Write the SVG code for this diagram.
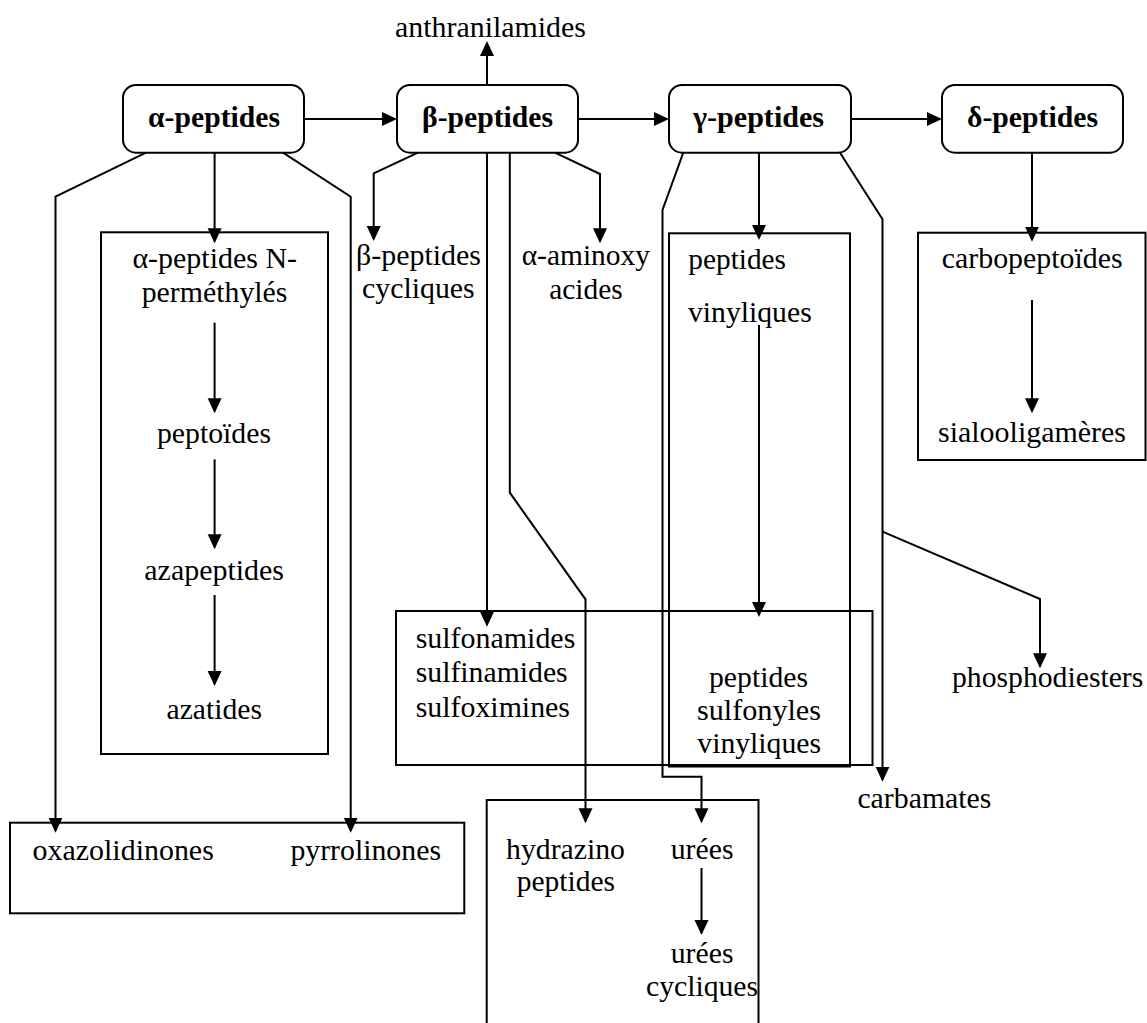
<svg xmlns="http://www.w3.org/2000/svg" width="1147" height="1023" viewBox="0 0 1147 1023">
<style>
text{font-family:"Liberation Serif","Times New Roman",serif;font-size:29.5px;fill:#000}
.b{font-weight:bold}
.box{fill:none;stroke:#000;stroke-width:2}
.ln{fill:none;stroke:#000;stroke-width:2;marker-end:url(#ah)}
</style>
<defs>
<marker id="ah" markerUnits="userSpaceOnUse" markerWidth="16" markerHeight="16" refX="13" refY="7" orient="auto">
<path d="M0,0 L15,7 L0,14 z" fill="#000"/>
</marker>
</defs>
<rect width="1147" height="1023" fill="#fff"/>

<g id="connectors">
<line class="ln" x1="304" y1="119" x2="395" y2="119"/>
<line class="ln" x1="578" y1="119" x2="667" y2="119"/>
<line class="ln" x1="851" y1="119" x2="940" y2="119"/>
<line class="ln" x1="487" y1="85" x2="487" y2="43"/>
<polyline class="ln" points="146,152.7 55.5,196.7 55.5,830.7"/>
<line class="ln" x1="214.6" y1="152.7" x2="214.6" y2="241.3"/>
<polyline class="ln" points="283,152.7 350.7,196.7 350.7,830.7"/>
<line class="ln" x1="214.6" y1="322.7" x2="214.6" y2="411.3"/>
<line class="ln" x1="214.6" y1="459.3" x2="214.6" y2="547.3"/>
<line class="ln" x1="214.6" y1="595" x2="214.6" y2="684"/>
<polyline class="ln" points="418,152.7 373.7,173.3 373.7,239"/>
<line class="ln" x1="487" y1="152.7" x2="487" y2="624.7"/>
<polyline class="ln" points="509.8,152.7 509.8,492.7 585.5,599.3 585.5,821.3"/>
<polyline class="ln" points="555,152.7 600,174 600,241.3"/>
<polyline class="ln" points="683.3,152.7 662.5,210 662.5,776.7 701.5,776.7 701.5,821.3"/>
<line class="ln" x1="759" y1="152.7" x2="759" y2="238"/>
<line class="ln" x1="759" y1="325" x2="759" y2="615"/>
<polyline class="ln" points="840,152.7 882.5,219.3 882.5,779.7"/>
<polyline class="ln" points="882.5,531.7 1040,599 1040,666.3"/>
<line class="ln" x1="1032" y1="152.7" x2="1032" y2="239.7"/>
<line class="ln" x1="1032" y1="300" x2="1032" y2="411.3"/>
<line class="ln" x1="701.5" y1="868" x2="701.5" y2="933"/>
</g>

<g id="n-anthranilamides"><text x="395" y="37" textLength="191" lengthAdjust="spacingAndGlyphs">anthranilamides</text></g>

<g id="n-alpha">
<rect class="box" x="123" y="85" width="181" height="67.7" rx="13"/>
<text class="b" x="148" y="127" textLength="132" lengthAdjust="spacingAndGlyphs">α-peptides</text>
</g>
<g id="n-beta">
<rect class="box" x="397" y="85" width="181" height="67.7" rx="13"/>
<text class="b" x="422" y="127" textLength="131" lengthAdjust="spacingAndGlyphs">β-peptides</text>
</g>
<g id="n-gamma">
<rect class="box" x="669" y="85" width="182" height="67.7" rx="13"/>
<text class="b" x="693" y="127" textLength="131" lengthAdjust="spacingAndGlyphs">γ-peptides</text>
</g>
<g id="n-delta">
<rect class="box" x="942" y="85" width="181" height="67.7" rx="13"/>
<text class="b" x="967" y="127" textLength="131" lengthAdjust="spacingAndGlyphs">δ-peptides</text>
</g>

<g id="n-alpha-group">
<rect class="box" x="101" y="232.3" width="227" height="521.7"/>
<text x="132.4" y="268" textLength="164.6" lengthAdjust="spacingAndGlyphs">α-peptides N-</text>
<text x="141.7" y="301.7" textLength="145.8" lengthAdjust="spacingAndGlyphs">perméthylés</text>
<text x="157" y="442.7" textLength="114" lengthAdjust="spacingAndGlyphs">peptoïdes</text>
<text x="144.3" y="580" textLength="139.7" lengthAdjust="spacingAndGlyphs">azapeptides</text>
<text x="166.5" y="719.3" textLength="95.5" lengthAdjust="spacingAndGlyphs">azatides</text>
</g>

<g id="n-beta-cycliques">
<text x="356" y="265" textLength="125" lengthAdjust="spacingAndGlyphs">β-peptides</text>
<text x="362" y="298" textLength="112.7" lengthAdjust="spacingAndGlyphs">cycliques</text>
</g>
<g id="n-aminoxy">
<text x="521.7" y="265" textLength="128.3" lengthAdjust="spacingAndGlyphs">α-aminoxy</text>
<text x="549.3" y="299" textLength="73.4" lengthAdjust="spacingAndGlyphs">acides</text>
</g>

<g id="n-gamma-group">
<rect class="box" x="669" y="233.3" width="181" height="533.2"/>
<text x="688.3" y="268.5" textLength="97.7" lengthAdjust="spacingAndGlyphs">peptides</text>
<text x="688" y="321.5" textLength="123.7" lengthAdjust="spacingAndGlyphs">vinyliques</text>
<text x="709" y="686.5" textLength="99" lengthAdjust="spacingAndGlyphs">peptides</text>
<text x="697" y="719.5" textLength="124" lengthAdjust="spacingAndGlyphs">sulfonyles</text>
<text x="697.3" y="753" textLength="123.7" lengthAdjust="spacingAndGlyphs">vinyliques</text>
</g>

<g id="n-delta-group">
<rect class="box" x="918" y="232.7" width="227.5" height="227.3"/>
<text x="941.8" y="268.3" textLength="180.8" lengthAdjust="spacingAndGlyphs">carbopeptoïdes</text>
<text x="938" y="441.7" textLength="188" lengthAdjust="spacingAndGlyphs">sialooligamères</text>
</g>

<g id="n-sulfo">
<rect class="box" x="396" y="611" width="476.5" height="154"/>
<text x="415.7" y="647.5" textLength="159.6" lengthAdjust="spacingAndGlyphs">sulfonamides</text>
<text x="415.7" y="681.7" textLength="152" lengthAdjust="spacingAndGlyphs">sulfinamides</text>
<text x="415.7" y="716.5" textLength="154.3" lengthAdjust="spacingAndGlyphs">sulfoximines</text>
</g>

<g id="n-phosphodiesters"><text x="952" y="686.7" textLength="191.3" lengthAdjust="spacingAndGlyphs">phosphodiesters</text></g>
<g id="n-carbamates"><text x="857.4" y="808.3" textLength="134" lengthAdjust="spacingAndGlyphs">carbamates</text></g>

<g id="n-oxa">
<rect class="box" x="10" y="822.7" width="454.3" height="90.6"/>
<text x="32.6" y="859.5" textLength="181.2" lengthAdjust="spacingAndGlyphs">oxazolidinones</text>
<text x="290.4" y="859.5" textLength="150.6" lengthAdjust="spacingAndGlyphs">pyrrolinones</text>
</g>

<g id="n-hydrazino">
<rect class="box" x="486.7" y="800" width="271.8" height="240"/>
<text x="506" y="859.3" textLength="119" lengthAdjust="spacingAndGlyphs">hydrazino</text>
<text x="516.7" y="891" textLength="98.3" lengthAdjust="spacingAndGlyphs">peptides</text>
<text x="670.7" y="859.3" textLength="62.8" lengthAdjust="spacingAndGlyphs">urées</text>
<text x="670.7" y="963" textLength="62.8" lengthAdjust="spacingAndGlyphs">urées</text>
<text x="646" y="996" textLength="112" lengthAdjust="spacingAndGlyphs">cycliques</text>
</g>
</svg>
